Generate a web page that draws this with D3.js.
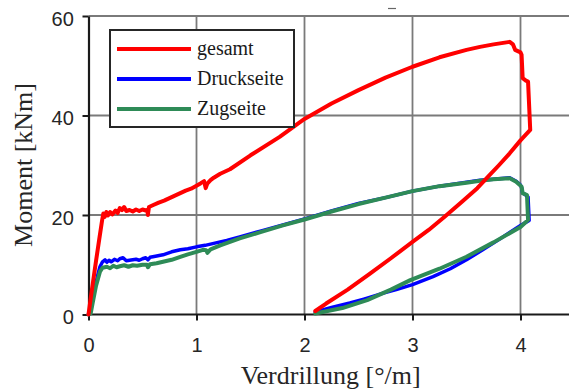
<!DOCTYPE html>
<html>
<head>
<meta charset="utf-8">
<script src="https://cdn.jsdelivr.net/npm/d3@7"></script>
<style>
  html, body { margin: 0; padding: 0; background: #fff; }
  svg { display: block; }
</style>
</head>
<body>
<svg id="chart" width="569" height="390"></svg>
<script>
// ---- data ----
const xTicks = [0, 1, 2, 3, 4];
const yTicks = [0, 20, 40, 60];
const xLabel = "Verdrillung [°/m]";
const yLabel = "Moment [kNm]";
const seriesNames = ["gesamt", "Druckseite", "Zugseite"];
const seriesColors = ["#ff0000", "#0000ff", "#2e8b57"];

const gesamt = [
  [0,0],[0.02,3.2],[0.044,6.9],[0.07,10.8],[0.1,15.2],[0.125,18.8],[0.137,20.3],[0.15,19.6],
  [0.165,20.6],[0.18,19.9],[0.2,20.6],[0.22,20.1],[0.25,20.9],[0.27,20.4],[0.29,21.4],[0.31,21.0],
  [0.33,21.6],[0.35,20.8],[0.38,21.0],[0.41,20.7],[0.44,21.1],[0.47,20.8],[0.5,21.1],[0.53,20.9],
  [0.545,21.0],[0.55,20.0],[0.56,21.6],[0.6,22.0],[0.65,22.5],[0.7,22.9],[0.75,23.4],[0.8,23.9],
  [0.85,24.4],[0.9,24.9],[0.95,25.3],[1.0,25.9],[1.04,26.4],[1.07,26.8],[1.085,25.4],[1.1,26.3],
  [1.13,27.0],[1.16,27.5],[1.22,28.3],[1.31,29.2],[1.5,32.0],[1.77,35.7],[2.0,39.3],[2.25,42.4],
  [2.5,45.1],[2.75,47.6],[3.0,49.8],[3.25,51.7],[3.5,53.2],[3.625,53.8],[3.75,54.3],[3.9,54.8],
  [3.93,54.3],[3.95,53.2],[4.0,52.7],[4.01,52.2],[4.02,47.5],[4.05,47.0],[4.07,46.8],[4.09,37.1],
  [4.0,35.0],[3.9,32.4],[3.8,30.0],[3.7,27.7],[3.6,25.4],[3.45,22.5],[3.3,19.7],[3.15,17.0],
  [3.0,14.6],[2.8,11.3],[2.6,8.1],[2.4,5.0],[2.2,2.2],[2.1,0.7]
];

const druckseite = [
  [0,0],[0.03,2.5],[0.06,5.5],[0.09,8.3],[0.106,9.6],[0.13,10.6],[0.153,11.0],[0.17,10.5],
  [0.19,10.9],[0.21,10.6],[0.24,11.1],[0.27,10.8],[0.29,11.2],[0.32,11.4],[0.35,10.8],[0.38,10.9],
  [0.41,11.0],[0.44,11.1],[0.47,10.9],[0.5,11.2],[0.53,11.4],[0.55,11.0],[0.57,11.5],[0.62,11.7],
  [0.69,12.0],[0.77,12.6],[0.85,13.0],[0.92,13.2],[1.0,13.6],[1.08,13.9],[1.16,14.3],[1.28,14.9],
  [1.4,15.6],[1.6,16.8],[1.8,18.0],[2.0,19.2],[2.25,20.8],[2.5,22.3],[2.75,23.5],[3.0,24.8],
  [3.25,25.8],[3.5,26.6],[3.625,27.0],[3.75,27.2],[3.9,27.5],[3.96,26.8],[4.0,26.0],[4.01,25.5],
  [4.02,24.4],[4.05,24.0],[4.07,23.6],[4.08,18.9],[4.0,17.9],[3.9,16.5],[3.81,15.2],[3.65,13.0],
  [3.5,11.0],[3.35,9.2],[3.19,7.6],[3.0,6.0],[2.85,5.0],[2.73,4.3],[2.55,3.1],[2.42,2.3],
  [2.25,1.4],[2.1,0.5]
];

const zugseite = [
  [0,0],[0.02,0.2],[0.04,2.5],[0.07,5.8],[0.106,8.6],[0.13,9.4],[0.17,9.6],[0.2,9.3],
  [0.23,9.8],[0.26,9.5],[0.29,9.7],[0.33,9.9],[0.37,9.6],[0.41,9.9],[0.45,9.8],[0.5,10.0],
  [0.54,10.0],[0.55,9.5],[0.57,10.1],[0.63,10.3],[0.69,10.6],[0.77,11.0],[0.85,11.6],[0.92,12.1],
  [1.0,12.6],[1.06,13.0],[1.09,12.9],[1.1,12.4],[1.13,13.1],[1.22,13.9],[1.31,14.6],[1.4,15.3],
  [1.6,16.6],[1.8,17.9],[2.0,19.1],[2.25,20.7],[2.5,22.2],[2.75,23.5],[3.0,24.8],[3.25,25.8],
  [3.5,26.5],[3.625,26.9],[3.75,27.2],[3.9,27.4],[3.96,26.7],[4.01,25.7],[4.02,24.4],[4.06,24.0],
  [4.07,19.0],[4.0,17.6],[3.75,14.5],[3.5,11.6],[3.25,9.2],[2.98,6.9],[2.8,5.0],[2.58,2.9],
  [2.35,1.3],[2.1,0.2]
];

// ---- layout ----
const svg = d3.select("#chart");
const x = d3.scaleLinear().domain([0, 4.5]).range([88.5, 574.5]);
const y = d3.scaleLinear().domain([0, 60]).range([314.5, 16]);

const gridColor = "#7a7a7a";
// grid
svg.append("g").selectAll("line.v").data(xTicks.filter(d => d > 0)).join("line")
  .attr("x1", d => x(d)).attr("x2", d => x(d)).attr("y1", y(0)).attr("y2", y(60))
  .attr("stroke", gridColor).attr("stroke-width", 1.8);
svg.append("g").selectAll("line.h").data(yTicks.filter(d => d > 0)).join("line")
  .attr("x1", x(0)).attr("x2", 569).attr("y1", d => y(d)).attr("y2", d => y(d))
  .attr("stroke", gridColor).attr("stroke-width", 1.8);

// small artifact dash at top
svg.append("line").attr("x1", 388).attr("x2", 396).attr("y1", 8.5).attr("y2", 8.5)
  .attr("stroke", "#666").attr("stroke-width", 1.2);

// axes
const xAxis = svg.append("g").attr("transform", `translate(0,${y(0)})`)
  .call(d3.axisBottom(x).tickValues(xTicks).tickFormat(d3.format("d")).tickSize(6).tickSizeOuter(0).tickPadding(16.8));
const yAxis = svg.append("g").attr("transform", `translate(${x(0)},0)`)
  .call(d3.axisLeft(y).tickValues(yTicks).tickFormat(d3.format("d")).tickSize(6).tickSizeOuter(0).tickPadding(8.7));
xAxis.select(".domain").attr("d", `M${x(0)},0H569`);
[xAxis, yAxis].forEach(g => {
  g.select(".domain").attr("stroke", "#1a1a1a").attr("stroke-width", 2.2);
  g.selectAll(".tick line").attr("stroke", "#1a1a1a").attr("stroke-width", 2);
  g.selectAll(".tick text").attr("font-family", "'Liberation Sans', Arial, sans-serif")
    .attr("font-size", 20).attr("fill", "#262626");
});
yAxis.selectAll(".tick text").attr("dy", "0.47em");

// axis labels
svg.append("text").attr("x", 330.7).attr("y", 384).attr("text-anchor", "middle")
  .attr("font-family", "'Liberation Serif', 'Times New Roman', serif").attr("font-size", 26)
  .attr("fill", "#262626").text(xLabel);
svg.append("text").attr("transform", "translate(32,165) rotate(-90)").attr("text-anchor", "middle")
  .attr("font-family", "'Liberation Serif', 'Times New Roman', serif").attr("font-size", 26)
  .attr("fill", "#262626").text(yLabel);

// lines
const line = d3.line().x(d => x(d[0])).y(d => y(d[1]));
const seriesData = [gesamt, druckseite, zugseite];
const widths = [4, 3.5, 4];
const drawOrder = [1, 2, 0];
drawOrder.forEach(i => {
  svg.append("path").datum(seriesData[i]).attr("d", line).attr("fill", "none")
    .attr("stroke", seriesColors[i]).attr("stroke-width", widths[i])
    .attr("stroke-linejoin", "round").attr("stroke-linecap", "round");
});

// legend
const lg = svg.append("g");
lg.append("rect").attr("x", 110).attr("y", 30).attr("width", 184).attr("height", 97)
  .attr("fill", "#fff").attr("stroke", "#262626").attr("stroke-width", 2);
seriesNames.forEach((name, i) => {
  const ly = 49 + i * 30;
  lg.append("line").attr("x1", 117).attr("x2", 191).attr("y1", ly).attr("y2", ly)
    .attr("stroke", seriesColors[i]).attr("stroke-width", 4);
  lg.append("text").attr("x", 197).attr("y", ly + 6)
    .attr("font-family", "'Liberation Serif', 'Times New Roman', serif").attr("font-size", 20)
    .attr("fill", "#1a1a1a").text(name);
});
</script>
</body>
</html>
